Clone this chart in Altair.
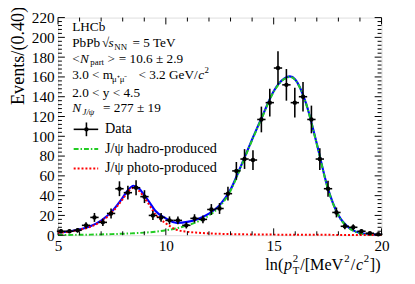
import altair as alt
import pandas as pd

# ---------------- data ----------------
x_centers = [5.14, 5.53, 5.91, 6.30, 6.69, 7.08, 7.46, 7.85, 8.24, 8.62,
             9.01, 9.40, 9.78, 10.17, 10.56, 10.95, 11.33, 11.72, 12.11, 12.49,
             12.88, 13.27, 13.65, 14.04, 14.43, 14.82, 15.20, 15.59, 15.98, 16.36,
             16.75, 17.14, 17.52, 17.91, 18.30, 18.69, 19.07, 19.46, 19.85]
counts = [4, 4, 5, 10, 18, 13, 22, 47, 43, 48,
          39, 20, 18, 15, 15, 10, 17, 16, 26, 27,
          42, 65, 77, 76, 117, 134, 169, 152, 134, 140,
          117, 77, 47, 23, 9, 8, 4, 2, 1]
errors = [2, 2, 2.3, 3.2, 4.5, 3.7, 5, 7.5, 7, 7.5,
          6.5, 4.5, 4.5, 4, 4, 3.2, 4.2, 4, 5.5, 5.5,
          7, 9, 10, 10, 13, 14, 17, 16, 15, 15,
          14, 11, 8, 5, 3, 3, 2, 1.4, 1]
bin_half = 0.193

curve_x = [5.0, 5.5, 6.0, 6.5, 7.0, 7.5, 8.0, 8.25, 8.5, 8.75,
           9.0, 9.25, 9.5, 10.0, 10.5, 11.0, 11.5, 12.0, 12.5, 13.0,
           13.5, 14.0, 14.5, 15.0, 15.5, 15.75, 16.0, 16.5, 17.0, 17.5,
           18.0, 18.5, 19.0, 19.5, 20.0]
total_fit = [2.7, 3.8, 5.9, 9.1, 14.8, 24.1, 38.0, 45.7, 50.0, 47.3,
             40.6, 33.0, 25.0, 17.0, 12.5, 13.5, 16.5, 21.8, 30.4, 46.1,
             70.9, 96.8, 121.7, 145.6, 158.5, 160.5, 157.5, 133.4, 92.4, 48.4,
             20.3, 7.3, 2.3, 0.8, 0.4]
hadro_fit = [0.2, 0.3, 0.4, 0.6, 0.8, 1.1, 1.5, 1.7, 2.0, 2.3,
             2.6, 3.0, 3.5, 5, 7, 10, 14, 20, 29, 45,
             70, 96, 121, 145, 158, 160, 157, 133, 92, 48,
             20, 7, 2, 0.5, 0.1]
photo_fit = [2.5, 3.5, 5.5, 8.5, 14, 23, 36.5, 44, 48, 45,
             38, 30, 21.5, 12, 5.5, 3.5, 2.5, 1.8, 1.4, 1.1,
             0.9, 0.8, 0.7, 0.6, 0.5, 0.5, 0.5, 0.4, 0.4, 0.4,
             0.3, 0.3, 0.3, 0.3, 0.3]

x_major = [5, 10, 15, 20]
x_minor = [6, 7, 8, 9, 11, 12, 13, 14, 16, 17, 18, 19]
y_major = [0, 20, 40, 60, 80, 100, 120, 140, 160, 180, 200, 220]
y_minor = [v for v in range(0, 221, 4) if v % 20 != 0]

# ---------------- layout ----------------
W, H = 330, 222
OX, OY = 59, 15  # picture position of the plot origin (page margin incl.)
FONT = "Liberation Serif"

xs = alt.Scale(domain=[5, 20], nice=False, zero=False)
ys = alt.Scale(domain=[0, 220], nice=False, zero=False)
X_AX = alt.Axis(values=x_major, title=None, grid=False, ticks=False, tickSize=0,
                domain=False, labelFont=FONT, labelFontSize=15.5, labelPadding=4,
                labelColor="black", labelFlush=False, labelOverlap=False)
Y_AX = alt.Axis(values=y_major, title=None, grid=False, ticks=False, tickSize=0,
                domain=False, labelFont=FONT, labelFontSize=15.5, labelPadding=4,
                labelColor="black", labelFlush=False, labelOverlap=False)

bins = pd.DataFrame({"x": x_centers, "n": counts, "e": errors})
bins["lo"] = bins.n - bins.e
bins["hi"] = bins.n + bins.e
bins["xl"] = bins.x - bin_half
bins["xh"] = bins.x + bin_half

curves = pd.DataFrame({"x": curve_x, "tot": total_fit, "had": hadro_fit, "pho": photo_fit})

GREEN = "#22cc22"
GDASH = [5, 2, 1.5, 2]
RDASH = [2, 2]

def curve(field, color, dash=None, width=2):
    kw = dict(color=color, strokeWidth=width, interpolate="monotone")
    if dash:
        kw["strokeDash"] = dash
    return alt.Chart(curves).mark_line(**kw).encode(
        x=alt.X("x:Q", scale=xs, axis=X_AX),
        y=alt.Y(f"{field}:Q", scale=ys, axis=Y_AX),
    )

blue = curve("tot", "#0000ff", width=2.2)
green = curve("had", GREEN, dash=GDASH)
red = curve("pho", "#ff0000", dash=RDASH)

vbar = alt.Chart(bins).mark_rule(color="black", strokeWidth=1.6).encode(
    x=alt.X("x:Q", scale=xs, axis=X_AX),
    y=alt.Y("lo:Q", scale=ys, axis=Y_AX), y2="hi:Q")
hbar = alt.Chart(bins).mark_rule(color="black", strokeWidth=1.6).encode(
    x=alt.X("xl:Q", scale=xs, axis=X_AX), x2="xh:Q",
    y=alt.Y("n:Q", scale=ys, axis=Y_AX))
pts = alt.Chart(bins).mark_point(filled=True, shape="circle", size=20,
                                 color="black", opacity=1).encode(
    x=alt.X("x:Q", scale=xs, axis=X_AX),
    y=alt.Y("n:Q", scale=ys, axis=Y_AX))

# ---------------- inward ticks on all four sides ----------------
def xticks(vals, length, top):
    d = pd.DataFrame({"v": vals})
    if top:
        yy = dict(y=alt.value(0), y2=alt.value(length))
    else:
        yy = dict(y=alt.value(H), y2=alt.value(H - length))
    return alt.Chart(d).mark_rule(color="black", strokeWidth=1).encode(
        x=alt.X("v:Q", scale=xs, axis=X_AX), **yy)

def yticks(vals, length, right):
    d = pd.DataFrame({"v": vals})
    if right:
        xx = dict(x=alt.value(W), x2=alt.value(W - length))
    else:
        xx = dict(x=alt.value(0), x2=alt.value(length))
    return alt.Chart(d).mark_rule(color="black", strokeWidth=1).encode(
        y=alt.Y("v:Q", scale=ys, axis=Y_AX), **xx)

ticks = [xticks(x_major, 7, False), xticks(x_minor, 4, False),
         xticks(x_major, 7, True), xticks(x_minor, 4, True),
         yticks(y_major, 7, False), yticks(y_minor, 4, False),
         yticks(y_major, 7, True), yticks(y_minor, 4, True)]

# ---------------- text annotations ----------------
one = pd.DataFrame({"a": [0]})

def txt(s, X, Y, size=13.5, italic=False, align="left", baseline="middle", angle=0):
    kw = dict(text=s, font=FONT, fontSize=size, color="black", align=align,
              baseline=baseline, angle=angle)
    if italic:
        kw["fontStyle"] = "italic"
    return alt.Chart(one).mark_text(**kw).encode(
        x=alt.value(X - OX), y=alt.value(Y - OY))

texts = [
    txt("LHCb", 73.5, 25),
    txt("PbPb", 73.5, 41.5), txt("\u221a", 104, 41.5), txt("s", 110.5, 41.5, italic=True),
    txt("NN", 116.5, 45, size=9), txt("= 5 TeV", 135, 41.5),
    txt("<", 73.5, 57.5), txt("N", 81.5, 57.5, italic=True), txt("part", 92, 60.5, size=9),
    txt(">", 109.5, 57.5), txt("= 10.6 \u00b1 2.9", 121, 57.5),
    txt("3.0 < m", 73.5, 74), txt("\u03bc\u207a\u03bc\u207b", 114, 78, size=9),
    txt("< 3.2 GeV/", 141, 74), txt("c", 202, 74, italic=True), txt("2", 208.5, 69, size=9),
    txt("2.0 < y < 4.5", 73.5, 92),
    txt("N", 73.5, 107, italic=True), txt("J/\u03c8", 84, 111, size=9, italic=True),
    txt("= 277 \u00b1 19", 105, 107),
    txt("Data", 107, 129, size=14.5),
    txt("J/\u03c8 hadro-produced", 107, 149, size=14.5),
    txt("J/\u03c8 photo-produced", 107, 169, size=14.5),
    # axis titles
    txt("Events/(0.40)", 18.5, 4, size=18.5, align="right", angle=270),
    txt("ln(", 270.5, 272, size=16.5, baseline="alphabetic"),
    txt("p", 289.5, 272, size=16.5, italic=True, baseline="alphabetic"),
    txt("2", 298.5, 264, size=11, baseline="alphabetic"),
    txt("T", 298.5, 277, size=11, baseline="alphabetic"),
    txt("/[MeV", 306, 272, size=16.5, baseline="alphabetic"),
    txt("2", 351, 264, size=11, baseline="alphabetic"),
    txt("/", 357.5, 272, size=16.5, baseline="alphabetic"),
    txt("c", 363, 272, size=16.5, italic=True, baseline="alphabetic"),
    txt("2", 371, 264, size=11, baseline="alphabetic"),
    txt("])", 377, 272, size=16.5, baseline="alphabetic"),
]

# ---------------- legend symbols ----------------
def hline(X1, X2, Y, color, dash=None, width=2):
    kw = dict(color=color, strokeWidth=width)
    if dash:
        kw["strokeDash"] = dash
    return alt.Chart(one).mark_rule(**kw).encode(
        x=alt.value(X1 - OX), x2=alt.value(X2 - OX), y=alt.value(Y - OY))

legend = [
    hline(75, 100, 129, "black", width=1.6),
    alt.Chart(one).mark_rule(color="black", strokeWidth=1.6).encode(
        x=alt.value(88 - OX), y=alt.value(122 - OY), y2=alt.value(136 - OY)),
    alt.Chart(one).mark_point(filled=True, shape="circle", size=20, color="black",
                              opacity=1).encode(x=alt.value(88 - OX), y=alt.value(129 - OY)),
    hline(75, 100, 149, GREEN, dash=GDASH),
    hline(75, 100, 169, "#ff0000", dash=RDASH),
]

chart = alt.layer(blue, green, red, vbar, hbar, pts, *ticks, *texts, *legend).properties(
    width=W, height=H,
    autosize=alt.AutoSizeParams(type="none"),
    padding={"left": 51, "top": 7, "right": 26, "bottom": 47},
).configure_view(stroke="black", strokeWidth=1).configure(background="white")

chart.save("out.html", embed_options={"renderer": "svg", "actions": False})
